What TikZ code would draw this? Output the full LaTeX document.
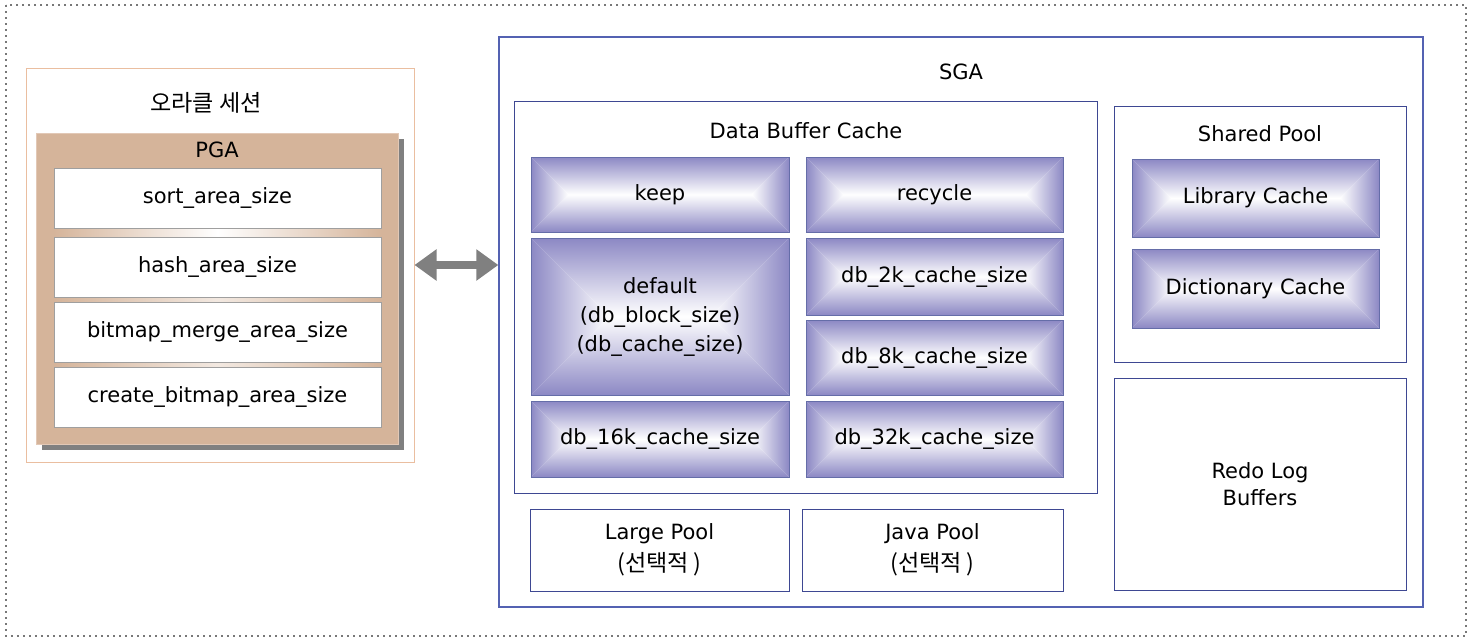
\documentclass[tikz,border=0pt]{standalone}
\usepackage{fontspec}
\setmainfont{DejaVu Sans}
\newfontfamily\kr{Noto Sans CJK KR}[Scale=1.1]
\usetikzlibrary{arrows.meta,shadows}

\definecolor{pgatan}{RGB}{213,180,154}
\definecolor{pgaedge}{RGB}{226,200,182}
\definecolor{sessedge}{RGB}{234,190,160}
\definecolor{sgaedge}{RGB}{84,98,178}
\definecolor{cacheedge}{RGB}{62,72,146}
\definecolor{cachepurple}{RGB}{140,136,196}
\definecolor{arrowgray}{RGB}{128,128,128}
\definecolor{framegray}{RGB}{120,120,120}

\tikzset{
  frame/.style={draw=framegray, line width=2pt, dash pattern=on 2pt off 4pt},
  sessionbox/.style={draw=sessedge, line width=1pt},
  pgabox/.style={draw=pgaedge, line width=1pt, fill=pgatan,
    drop shadow={shadow xshift=6pt, shadow yshift=-6pt, fill=arrowgray, opacity=1}},
  areabox/.style={draw=gray!75, line width=1pt, fill=white,
    minimum width=327pt, minimum height=60pt},
  poolbox/.style={draw=cacheedge, line width=1pt, align=center},
  cachebox/.style={draw=cacheedge!80, line width=1pt, align=center,
    path picture={
      \pgfpointdiff{\pgfpointanchor{path picture bounding box}{south}}{\pgfpointanchor{path picture bounding box}{north}}
      \pgfgetlastxy{\cachedx}{\cachedy}
      \coordinate (cw) at ([xshift={\cachedy/2}]path picture bounding box.west);
      \coordinate (ce) at ([xshift={-\cachedy/2}]path picture bounding box.east);
      \shade[top color=cachepurple, bottom color=white]
        (path picture bounding box.north west) -- (path picture bounding box.north east)
        -- (ce) -- (cw) -- cycle;
      \shade[bottom color=cachepurple, top color=white]
        (path picture bounding box.south west) -- (path picture bounding box.south east)
        -- (ce) -- (cw) -- cycle;
      \shade[left color=cachepurple, right color=white]
        (path picture bounding box.north west) -- (path picture bounding box.south west)
        -- (cw) -- cycle;
      \shade[right color=cachepurple, left color=white]
        (path picture bounding box.north east) -- (path picture bounding box.south east)
        -- (ce) -- cycle;
    }},
  dblarrow/.style={draw=arrowgray, line width=8pt,
    {Triangle[length=22pt,width=30pt]}-{Triangle[length=22pt,width=30pt]}}
}

\begin{document}
\begin{tikzpicture}[x=1pt,y=-1pt,font=\fontsize{21}{27}\selectfont]
  \useasboundingbox (0,0) rectangle (1471,640);
  \draw[frame] (6,5) rectangle (1466,636);

  % session side
  \node[sessionbox, minimum width=388pt, minimum height=394pt] (session) at (220,265) {};
  \node (sessiontitle) at (206,103) {\kr 오라클 세션};
  \node[pgabox, minimum width=362pt, minimum height=311pt] (pga) at (217,288.5) {};
  \node (pgatitle) at (217,150) {PGA};

  \begin{scope}[every node/.style={areabox}]
    \node (sort) at (217.5,198) {sort\_area\_size};
    \node (hash) at (217.5,267) {hash\_area\_size};
    \node (merge) at (217.5,332) {bitmap\_merge\_area\_size};
    \node (create) at (217.5,397) {create\_bitmap\_area\_size};
  \end{scope}
  \shade[left color=pgatan, right color=pgatan, middle color=white]
    ([yshift=-0.5pt]sort.south west) rectangle ([yshift=0.5pt]hash.north east);
  \shade[left color=pgatan, right color=pgatan, middle color=white!70!pgatan]
    ([yshift=-0.5pt]hash.south west) rectangle ([yshift=0.5pt]merge.north east);
  \shade[left color=pgatan, right color=pgatan, middle color=white!70!pgatan]
    ([yshift=-0.5pt]merge.south west) rectangle ([yshift=0.5pt]create.north east);

  % SGA side
  \node[draw=sgaedge, line width=1.3pt, minimum width=924pt, minimum height=570pt] (sga) at (961,322) {};
  \node (sgatitle) at (961,72) {SGA};

  \node[poolbox, minimum width=583pt, minimum height=392pt] (dbc) at (805.5,297) {};
  \node (dbctitle) at (806,131) {Data Buffer Cache};
  \begin{scope}[every node/.style={cachebox}]
    \node[minimum width=258pt, minimum height=75pt] (keep) at (660,194.5) {keep};
    \node[minimum width=257pt, minimum height=75pt] (recycle) at (934.5,194.5) {recycle};
    \node[minimum width=258pt, minimum height=157pt] (default) at (660,316.5)
      {default\\[2pt](db\_block\_size)\\[2pt](db\_cache\_size)};
    \node[minimum width=257pt, minimum height=77pt] (db2k) at (934.5,276.5) {db\_2k\_cache\_size};
    \node[minimum width=257pt, minimum height=75pt] (db8k) at (934.5,357.5) {db\_8k\_cache\_size};
    \node[minimum width=258pt, minimum height=76pt] (db16k) at (660,439) {db\_16k\_cache\_size};
    \node[minimum width=257pt, minimum height=76pt] (db32k) at (934.5,439) {db\_32k\_cache\_size};
  \end{scope}

  \node[poolbox, minimum width=292pt, minimum height=256pt] (shared) at (1260,234) {};
  \node (sharedtitle) at (1260,134) {Shared Pool};
  \node[cachebox, minimum width=247pt, minimum height=78pt] (library) at (1255.5,198) {Library Cache};
  \node[cachebox, minimum width=247pt, minimum height=79pt] (dictionary) at (1255.5,288.5) {Dictionary Cache};

  \node[poolbox, minimum width=292pt, minimum height=212pt] (redo) at (1260,484) {Redo Log\\Buffers};
  \node[poolbox, minimum width=259pt, minimum height=82pt] (large) at (659.5,550)
    {Large Pool\\[5pt]{\kr (선택적 )}};
  \node[poolbox, minimum width=261pt, minimum height=82pt] (java) at (932.5,550)
    {Java Pool\\[5pt]{\kr (선택적 )}};

  \draw[dblarrow] (session.east) -- (session.east -| sga.west);
\end{tikzpicture}
\end{document}
